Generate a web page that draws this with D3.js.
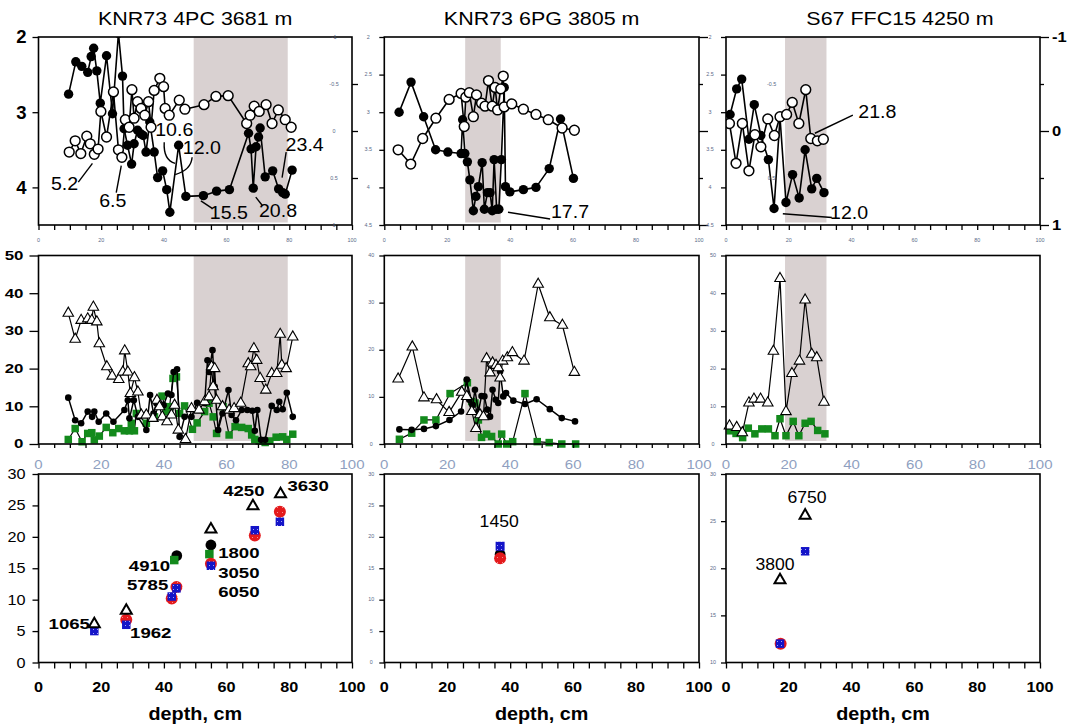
<!DOCTYPE html>
<html>
<head>
<meta charset="utf-8">
<script src="https://cdn.jsdelivr.net/npm/d3@7/dist/d3.min.js"></script>
<style>
  body { margin: 0; background: #fff; }
  svg { display: block; font-family: "Liberation Sans", Arial, Helvetica, sans-serif; }
</style>
</head>
<body>
<svg id="fig" width="1069" height="728"></svg>
<script>
// ---------------------------------------------------------------
// Cores, shaded intervals and axis ticks
// ---------------------------------------------------------------
const coreTitles = ["KNR73 4PC 3681 m", "KNR73 6PG 3805 m", "S67 FFC15 4250 m"];
const shadedIntervals = [[49.5, 79.5], [25.7, 37.0], [18.8, 32.0]];
const depthLabels = [0, 20, 40, 60, 80, 100];
const isoLeftLabels = [2, 3, 4];
const isoRightLabels = [-1, 0, 1];
const faunaDomains = [[0, 50], [0, 40], [0, 50]];
const ageDomains = [[0, 30], [0, 30], [10, 30]];

// ---------------------------------------------------------------
// Stable isotope records, [depth cm, value]
// ---------------------------------------------------------------
const pc4Filled = [[9.6,2.76],[11.9,2.33],[13.8,2.39],[15.7,2.47],[16.8,2.26],[17.6,2.15],[18.6,2.45],[19.7,2.88],[21.7,2.25],[23.6,3.02],[25.5,1.95],[26.8,2.52],[27.3,3.22],[28.4,3.44],[29.7,3.69],[30.5,3.42],[31.6,3.24],[32.7,3.29],[33.4,3.31],[34.3,3.53],[35.5,3.13],[36.9,3.53],[38.0,3.87],[39.6,3.78],[40.9,4.03],[41.9,4.33],[44.7,3.44],[47.0,4.12],[52.6,4.11],[56.8,4.05],[60.9,4.03],[67.0,3.28],[67.8,3.49],[68.5,4.01],[69.4,3.46],[70.2,3.33],[70.7,3.21],[72.3,3.86],[74.7,3.78],[76.6,4.02],[77.9,4.07],[78.7,4.09],[80.9,3.77]];
const pc4Open = [[9.8,3.53],[11.7,3.38],[13.5,3.55],[15.4,3.32],[16.5,3.42],[17.8,3.56],[19.0,3.49],[19.9,2.99],[21.7,3.33],[23.9,2.73],[25.5,3.50],[26.6,3.60],[27.7,3.10],[28.9,3.20],[29.8,2.70],[30.5,3.08],[31.6,2.86],[32.7,2.95],[33.9,3.04],[35.1,2.86],[35.9,3.20],[36.9,2.71],[38.7,2.55],[39.9,2.66],[40.4,2.95],[41.7,3.04],[44.9,2.84],[46.7,2.96],[52.8,2.90],[56.6,2.79],[60.5,2.78],[66.4,3.15],[67.5,3.04],[68.8,2.92],[70.4,2.99],[72.6,2.90],[74.5,3.15],[76.5,2.97],[78.7,3.10],[80.6,3.20]];
const pg6Filled = [[4.7,3.00],[8.5,2.60],[12.5,3.06],[16.3,3.50],[20.2,3.53],[24.4,3.55],[24.9,3.10],[25.6,3.55],[26.4,3.66],[27.2,3.90],[28.3,4.31],[29.1,4.12],[29.9,3.99],[31.1,3.67],[31.8,4.29],[32.8,4.07],[33.6,4.07],[34.3,4.31],[34.9,3.63],[35.7,4.29],[36.4,4.29],[37.2,3.63],[38.1,2.67],[38.5,3.99],[39.9,4.06],[44.2,4.03],[48.2,4.00],[52.4,3.75],[56.0,3.09],[60.1,3.88]];
const pg6Open = [[4.4,3.50],[8.4,3.69],[12.2,3.35],[16.4,3.08],[20.6,2.83],[24.4,2.75],[25.4,3.19],[25.9,2.80],[27.0,2.74],[28.3,3.06],[29.3,2.77],[30.9,2.88],[32.0,2.92],[33.1,2.58],[34.3,2.92],[35.2,2.67],[36.0,2.97],[37.0,2.69],[37.8,2.52],[38.1,2.93],[40.5,2.89],[44.2,2.96],[48.2,3.03],[52.1,3.10],[56.5,3.21],[60.4,3.24]];
const ffcFilled = [[1.3,3.03],[3.4,2.69],[5.0,2.56],[7.3,3.36],[9.0,2.90],[11.1,3.31],[13.5,3.63],[15.3,4.28],[17.2,3.07],[19.1,4.20],[21.2,3.83],[23.3,4.14],[25.2,3.50],[27.3,4.02],[28.9,3.88],[31.2,4.07]];
const ffcOpen = [[1.1,3.15],[3.2,3.68],[5.2,3.15],[7.3,3.78],[9.2,3.30],[11.1,3.46],[13.3,3.09],[15.4,3.31],[17.2,3.06],[19.3,3.03],[21.1,2.87],[23.2,3.15],[25.4,2.70],[27.0,3.35],[29.1,3.38],[31.0,3.36]];

// Age notes (kyr) on the isotope panels: text, text point, leader line
const pc4Notes = [
  {text: "5.2",  at: [8.3, 3.95],  line: [[12.7, 3.93], [17.2, 3.68]]},
  {text: "6.5",  at: [23.7, 4.18], line: [[24.8, 4.07], [26.4, 3.71]]},
  {text: "10.6", at: [43.3, 3.24], line: [[40.1, 3.40], [39.8, 3.64], [43.6, 3.68]]},
  {text: "12.0", at: [52.1, 3.48], line: [[49.0, 3.60], [48.7, 3.77], [43.6, 3.83]]},
  {text: "15.5", at: [60.7, 4.34], line: [[51.8, 4.18], [55.4, 4.28]]},
  {text: "20.8", at: [76.4, 4.31], line: [[69.3, 4.13], [71.4, 4.24]]},
  {text: "23.4", at: [84.9, 3.43], line: [[79.0, 3.53], [77.7, 3.87]]}
];
const pg6Notes = [
  {text: "17.7", at: [59.0, 4.33], line: [[39.3, 4.33], [52.7, 4.42]]}
];
const ffcNotes = [
  {text: "21.8", at: [48.2, 2.99], line: [[28.3, 3.28], [40.4, 3.04]]},
  {text: "12.0", at: [39.2, 4.34], line: [[18.1, 4.35], [33.7, 4.40]]}
];

// ---------------------------------------------------------------
// Faunal records (%), [depth cm, value]
// ---------------------------------------------------------------
const pc4Tri = [[9.5,34.7],[11.7,27.8],[13.6,32.8],[15.7,33.2],[17.0,32.8],[17.5,36.3],[18.6,32.4],[19.4,26.6],[21.8,20.5],[23.5,18.0],[25.6,17.1],[26.9,19.1],[27.5,24.7],[28.5,19.1],[29.3,13.4],[30.6,17.6],[31.7,13.8],[32.8,7.7],[34.4,7.7],[36.5,6.8],[37.8,11.6],[38.6,9.9],[39.5,7.2],[41.0,5.9],[42.4,7.7],[43.4,10.3],[44.6,3.7],[46.9,1.2],[48.8,9.4],[51.2,9.0],[53.0,11.2],[54.4,12.5],[55.2,20.5],[55.7,15.2],[56.2,20.0],[56.8,11.6],[58.7,9.9],[60.8,9.0],[62.4,9.4],[64.5,10.8],[66.9,21.3],[67.7,20.5],[68.7,25.3],[69.6,22.2],[70.7,17.4],[72.5,14.3],[74.4,18.7],[76.0,18.7],[77.1,29.1],[77.6,20.9],[79.0,20.0],[81.1,28.4]];
const pc4Dot = [[9.5,12.3],[11.7,6.3],[13.6,5.5],[15.7,8.6],[17.1,7.2],[17.8,8.6],[19.2,5.9],[21.6,8.1],[23.9,5.9],[27.4,9.0],[28.5,11.6],[29.0,6.8],[30.4,11.6],[31.7,7.2],[34.4,3.7],[35.6,13.0],[36.7,8.1],[37.6,10.8],[38.6,10.8],[39.9,10.3],[41.3,13.4],[42.4,13.0],[43.1,19.1],[44.2,19.8],[45.0,1.9],[46.6,7.2],[48.8,7.2],[50.6,10.9],[53.0,10.8],[53.9,22.2],[54.4,19.1],[55.5,24.9],[56.2,15.2],[57.3,3.7],[58.7,8.1],[60.6,14.3],[61.6,7.7],[63.0,6.3],[64.8,9.0],[66.6,9.0],[68.2,8.8],[69.0,3.5],[69.8,9.0],[71.0,1.1],[72.3,1.1],[74.4,10.1],[76.0,9.0],[76.8,11.2],[77.9,9.2],[79.2,13.6],[81.1,7.2]];
const pc4Sq = [[9.5,1.2],[11.7,4.1],[13.9,0.6],[15.7,2.8],[17.0,3.0],[17.8,1.1],[19.4,2.1],[21.6,4.4],[23.7,3.0],[25.6,4.1],[27.4,3.5],[29.0,3.5],[29.6,5.5],[30.6,3.5],[31.2,8.1],[34.4,5.5],[37.0,7.2],[39.4,12.7],[40.8,8.6],[41.8,9.9],[42.9,17.4],[44.0,17.8],[45.0,8.1],[46.6,10.1],[49.1,3.9],[50.6,5.6],[53.0,8.6],[54.4,10.8],[55.7,7.2],[56.8,2.8],[58.9,9.9],[60.8,2.4],[62.7,4.6],[64.8,4.4],[66.9,4.1],[68.0,2.4],[69.0,1.2],[70.4,0.8],[72.3,0.4],[73.8,0.8],[75.8,1.8],[77.9,1.9],[79.2,1.2],[81.1,2.6]];
const pg6Tri = [[4.4,13.8],[8.9,20.6],[12.6,9.8],[16.6,9.4],[20.6,6.7],[24.6,11.0],[26.2,10.1],[27.8,6.9],[29.1,3.3],[30.4,6.2],[31.5,5.8],[32.5,18.1],[33.6,15.1],[34.4,17.2],[35.5,16.7],[36.2,16.2],[36.8,14.0],[37.6,17.6],[39.1,18.3],[40.7,19.4],[44.4,17.6],[48.9,33.9],[52.6,26.8],[56.6,25.2],[60.4,15.2]];
const pg6Dot = [[4.8,3.1],[8.7,3.0],[12.6,3.2],[16.4,3.8],[20.7,5.1],[24.4,6.9],[26.2,13.7],[27.0,9.4],[28.1,8.3],[28.8,11.5],[29.9,6.9],[30.9,10.2],[31.8,10.1],[32.7,7.3],[33.6,5.8],[34.4,11.5],[35.4,9.4],[36.2,8.7],[36.8,15.4],[37.8,10.1],[38.7,10.8],[41.0,9.2],[44.7,8.5],[48.4,9.5],[52.6,7.4],[56.4,5.5],[60.6,4.8]];
const pg6Sq = [[4.8,1.0],[8.7,2.3],[12.6,5.1],[16.4,5.1],[20.9,10.7],[26.4,13.0],[27.8,9.0],[28.8,8.7],[29.9,5.1],[30.9,1.4],[32.5,2.1],[34.1,1.6],[36.2,0.0],[37.3,2.1],[38.9,0.0],[40.8,0.5],[44.7,10.7],[48.6,0.5],[52.4,0.3],[56.4,0.0],[60.8,0.0]];
const ffcTri = [[1.1,4.8],[3.4,4.4],[5.2,3.0],[7.3,10.9],[8.9,11.9],[11.0,11.9],[13.3,10.9],[15.1,24.6],[17.2,43.9],[19.1,8.6],[21.0,18.7],[23.4,22.0],[25.2,38.2],[27.3,23.8],[28.9,22.9],[31.2,11.1]];
const ffcSq = [[1.3,3.5],[3.2,2.8],[5.3,1.7],[7.1,4.2],[9.2,2.7],[11.4,4.0],[13.5,4.0],[15.6,2.2],[17.2,6.7],[19.1,2.2],[21.4,6.0],[23.2,2.2],[25.2,5.5],[27.1,6.0],[29.2,3.6],[31.5,2.7]];

// ---------------------------------------------------------------
// Radiocarbon ages (kyr) vs depth, [depth cm, age]
// ---------------------------------------------------------------
const pc4AgeTri   = [[17.8,6.1],[28.0,8.25],[55.0,21.2],[68.4,24.9],[77.2,26.8]];
const pc4AgeRed   = [[28.0,6.8],[42.5,10.2],[44.0,12.0],[55.0,15.7],[69.0,20.2],[77.0,24.0]];
const pc4AgeBlue  = [[17.8,5.0],[28.0,6.0],[42.5,10.5],[44.0,11.8],[55.0,15.4],[69.0,21.05],[77.0,22.4]];
const pc4AgeBlack = [[44.1,17.0],[55.0,18.7]];
const pc4AgeGreen = [[43.3,16.3],[54.5,17.25]];
const pg6AgeBlack = [[36.8,17.2]];
const pg6AgeRed   = [[36.8,16.6]];
const pg6AgeBlue  = [[36.8,18.5]];
const ffcAgeTri   = [[17.2,18.75],[25.2,25.6]];
const ffcAgeRed   = [[17.4,12.0]];
const ffcAgeBlue  = [[17.2,12.0],[25.2,21.8]];

// Reservoir-age notes (yr)
const pc4AgeNotes = [
  {text: "1065", at: [16.4, 6.2],  anchor: "end"},
  {text: "1962", at: [29.2, 4.8],  anchor: "start"},
  {text: "4910", at: [42.0, 15.4], anchor: "end"},
  {text: "5785", at: [41.4, 12.4], anchor: "end"},
  {text: "1800", at: [57.3, 17.5], anchor: "start"},
  {text: "3050", at: [57.3, 14.3], anchor: "start"},
  {text: "6050", at: [57.3, 11.3], anchor: "start"},
  {text: "4250", at: [65.5, 27.3], anchor: "middle"},
  {text: "3630", at: [79.4, 28.1], anchor: "start"}
];
const pg6AgeNotes = [{text: "1450", at: [36.5, 22.5], anchor: "middle"}];
const ffcAgeNotes = [
  {text: "6750", at: [25.8, 27.55], anchor: "middle"},
  {text: "3800", at: [15.6, 20.4],  anchor: "middle"}
];

// ---------------------------------------------------------------
// Layout
// ---------------------------------------------------------------
const colRange = [[38.5, 352], [384.3, 699], [726, 1040]];
const rowRange = {iso: [225, 37], fauna: [444, 255.5], age: [662.5, 474]};
const SHADE = "#d9d1d1";
const GREEN = "#138a1c";
const RED = "#e41a1c";
const BLUE = "#1414c8";
const GHOST = "#8f9fbf";

const svg = d3.select("#fig");

const defs = svg.append("defs");
const bluePat = defs.append("pattern").attr("id", "blueDots")
  .attr("patternUnits", "userSpaceOnUse").attr("width", 4).attr("height", 4);
bluePat.append("rect").attr("width", 4).attr("height", 4).attr("fill", BLUE);
bluePat.append("rect").attr("x", 1).attr("y", 1).attr("width", 0.9).attr("height", 0.9).attr("fill", "#c8c8ff");
const redPat = defs.append("pattern").attr("id", "redDots")
  .attr("patternUnits", "userSpaceOnUse").attr("width", 5).attr("height", 5);
redPat.append("rect").attr("width", 5).attr("height", 5).attr("fill", RED);
redPat.append("rect").attr("x", 2).attr("y", 2).attr("width", 0.8).attr("height", 0.8).attr("fill", "#ffd0d0");

function label(g, x, y, str, o = {}) {
  return g.append("text")
    .attr("transform", `translate(${x},${y}) scale(${o.sx || 1},1)`)
    .attr("text-anchor", o.anchor || "middle")
    .attr("dy", o.dy == null ? "0.35em" : o.dy)
    .attr("font-size", o.size || 16)
    .attr("font-weight", o.weight || "normal")
    .attr("fill", o.fill || "#000")
    .text(str);
}
function tiny(g, x, y, str) {
  label(g, x, y, str, {size: 4.5, fill: "#5a6a88", sx: 1.2});
}
function styleAxis(sel, w) {
  sel.select(".domain").remove();
  sel.selectAll("line").attr("stroke", "#000").attr("stroke-width", w || 1.3);
}
function ticksBottom(g, x, yPos, size) {
  const a = g.append("g").attr("transform", `translate(0,${yPos})`)
    .call(d3.axisBottom(x).tickValues(d3.range(0, 101, 5)).tickSize(size).tickFormat(""));
  styleAxis(a);
}
function ticksLeft(g, y, xPos, values, size) {
  const a = g.append("g").attr("transform", `translate(${xPos},0)`)
    .call(d3.axisLeft(y).tickValues(values).tickSize(size).tickFormat(""));
  styleAxis(a);
}
function ticksRight(g, y, xPos, values, size) {
  const a = g.append("g").attr("transform", `translate(${xPos},0)`)
    .call(d3.axisRight(y).tickValues(values).tickSize(size).tickFormat(""));
  styleAxis(a);
}
function frame(g, x, y) {
  const [x0, x1] = x.range(), [y0, y1] = y.range();
  g.append("rect").attr("x", x0).attr("y", y1).attr("width", x1 - x0).attr("height", y0 - y1)
    .attr("fill", "none").attr("stroke", "#000").attr("stroke-width", 1.6);
}
function shade(g, x, y, band, inset) {
  const [y0, y1] = y.range();
  g.append("rect").attr("x", x(band[0])).attr("y", y1)
    .attr("width", x(band[1]) - x(band[0])).attr("height", y0 - y1 - (inset || 0))
    .attr("fill", SHADE);
}
function line(g, x, y, data, w) {
  g.append("path").datum(data)
    .attr("d", d3.line().x(d => x(d[0])).y(d => y(d[1])))
    .attr("fill", "none").attr("stroke", "#000").attr("stroke-width", w || 1.5)
    .attr("stroke-linejoin", "round");
}
function circles(g, x, y, data, r, fill, stroke, sw) {
  g.append("g").selectAll("circle").data(data).join("circle")
    .attr("cx", d => x(d[0])).attr("cy", d => y(d[1])).attr("r", r)
    .attr("fill", fill).attr("stroke", stroke || "none").attr("stroke-width", sw || 0);
}
function squares(g, x, y, data, s, fill) {
  g.append("g").selectAll("rect").data(data).join("rect")
    .attr("x", d => x(d[0]) - s / 2).attr("y", d => y(d[1]) - s / 2)
    .attr("width", s).attr("height", s).attr("fill", fill);
}
function triangles(g, x, y, data, side, sw) {
  const sym = d3.symbol(d3.symbolTriangle, Math.sqrt(3) / 4 * side * side);
  g.append("g").selectAll("path").data(data).join("path")
    .attr("transform", d => `translate(${x(d[0])},${y(d[1])})`)
    .attr("d", sym).attr("fill", "#fff").attr("stroke", "#000").attr("stroke-width", sw || 1.2);
}
function notes(g, x, y, list, size, sx) {
  list.forEach(n => {
    if (n.line) {
      const pts = n.line.map(p => [x(p[0]), y(p[1])]);
      const path = pts.length === 3
        ? `M${pts[0]}Q${pts[1]} ${pts[2]}`
        : `M${pts[0]}L${pts[1]}`;
      g.append("path").attr("d", path).attr("fill", "none")
        .attr("stroke", "#000").attr("stroke-width", 1.4);
    }
    label(g, x(n.at[0]), y(n.at[1]), n.text, {size: size, sx: sx, anchor: n.anchor || "middle"});
  });
}

// ---------------------------------------------------------------
// Titles
// ---------------------------------------------------------------
coreTitles.forEach((t, i) => {
  const cx = (colRange[i][0] + colRange[i][1]) / 2 + (i === 2 ? 17 : 0);
  label(svg, cx, 25, t, {size: 19, sx: 1.13, dy: 0});
});

const isoSeries = [[pc4Filled, pc4Open, pc4Notes], [pg6Filled, pg6Open, pg6Notes], [ffcFilled, ffcOpen, ffcNotes]];
const faunaSeries = [[pc4Tri, pc4Dot, pc4Sq], [pg6Tri, pg6Dot, pg6Sq], [ffcTri, null, ffcSq]];

for (let c = 0; c < 3; c++) {
  const x = d3.scaleLinear().domain([0, 100]).range(colRange[c]);

  // ---------------- isotope row ----------------
  {
    const g = svg.append("g");
    const y = d3.scaleLinear().domain([4.5, 2]).range(rowRange.iso);
    const yR = d3.scaleLinear().domain([1, -1]).range(rowRange.iso);
    shade(g, x, y, shadedIntervals[c], 2.5);

    const clipId = "isoClip" + c;
    defs.append("clipPath").attr("id", clipId).append("rect")
      .attr("x", colRange[c][0]).attr("y", rowRange.iso[1])
      .attr("width", colRange[c][1] - colRange[c][0]).attr("height", rowRange.iso[0] - rowRange.iso[1]);
    const d = g.append("g").attr("clip-path", `url(#${clipId})`);
    const [filled, open, nts] = isoSeries[c];
    line(d, x, y, filled, 1.6);
    line(d, x, y, open, 1.6);
    circles(d, x, y, filled, 4.7, "#000");
    circles(d, x, y, open, 4.9, "#fff", "#000", 1.5);

    frame(g, x, y);
    ticksBottom(g, x, rowRange.iso[0], 5);
    if (c === 0) {
      ticksLeft(g, y, colRange[c][0], isoLeftLabels, 6);
      isoLeftLabels.forEach(v => label(g, colRange[c][0] - 12, y(v), v, {size: 18.5, weight: "bold", anchor: "end"}));
      ticksRight(g, yR, colRange[c][1], [-0.5, 0, 0.5], 6);
      [-1, -0.5, 0, 0.5, 1].forEach(v => tiny(g, colRange[c][1] - 18, yR(v), v));
    } else {
      ticksLeft(g, y, colRange[c][0], d3.range(2, 4.51, 0.5), 5);
      d3.range(2, 4.51, 0.5).forEach(v => tiny(g, colRange[c][0] - 16, y(v), v));
      ticksRight(g, yR, colRange[c][1], [-1, 0, 1], 9);
      ticksRight(g, yR, colRange[c][1], [-0.5, 0.5], 4);
    }
    if (c === 2) {
      isoRightLabels.forEach(v => label(g, colRange[c][1] + 12, yR(v), v, {size: 15, weight: "bold", anchor: "start", sx: 1.1}));
      [-0.5, 0.5].forEach(v => tiny(g, x(14.5), yR(v), v));
    }
    depthLabels.forEach(v => tiny(g, x(v), rowRange.iso[0] + 15, v));
    notes(g, x, y, nts, 17.5, 1.12);
  }

  // ---------------- fauna row ----------------
  {
    const g = svg.append("g");
    const y = d3.scaleLinear().domain(faunaDomains[c]).range(rowRange.fauna);
    shade(g, x, y, shadedIntervals[c], 3);
    const [tri, dot, sq] = faunaSeries[c];
    line(g, x, y, sq, 1.2);
    squares(g, x, y, sq, 7.5, GREEN);
    if (dot) {
      line(g, x, y, dot, 1.5);
      circles(g, x, y, dot, 3.3, "#000");
    }
    line(g, x, y, tri, 1.2);
    triangles(g, x, y, tri, 10.5, 1.1);

    frame(g, x, y);
    ticksBottom(g, x, rowRange.fauna[0], 4);
    const tv = d3.range(faunaDomains[c][0], faunaDomains[c][1] + 0.1, 10);
    if (c === 0) {
      ticksLeft(g, y, colRange[c][0], tv, 9);
      tv.forEach(v => label(g, colRange[c][0] - 15, y(v), v, {size: 12.5, weight: "bold", anchor: "end", sx: 1.35}));
    } else {
      ticksLeft(g, y, colRange[c][0], tv, 5);
      tv.forEach(v => tiny(g, colRange[c][0] - 13, y(v), v));
    }
    depthLabels.forEach(v => label(g, x(v), 465, v, {size: 12, sx: 1.25, fill: GHOST}));
  }

  // ---------------- age row ----------------
  {
    const g = svg.append("g");
    const y = d3.scaleLinear().domain(ageDomains[c]).range(rowRange.age);
    frame(g, x, y);
    ticksBottom(g, x, rowRange.age[0], 6);
    const tv = d3.range(ageDomains[c][0], ageDomains[c][1] + 0.1, 5);
    if (c === 0) {
      ticksLeft(g, y, colRange[c][0], tv, 6);
      tv.forEach(v => label(g, colRange[c][0] - 13, y(v), v, {size: 14.5, anchor: "end", sx: 1.12}));
    } else {
      ticksLeft(g, y, colRange[c][0], tv, 5);
      tv.forEach(v => tiny(g, colRange[c][0] - 13, y(v), v));
    }
    depthLabels.forEach(v => label(g, x(v), 687, v, {size: 15, weight: "bold", sx: 1.08}));
    label(g, (colRange[c][0] + colRange[c][1]) / 2, 714, "depth, cm", {size: 18, weight: "bold", sx: 1.1});

    if (c === 0) {
      circles(g, x, y, pc4AgeBlack, 5.4, "#000");
      squares(g, x, y, pc4AgeGreen, 8.5, GREEN);
      circles(g, x, y, pc4AgeRed, 6, "url(#redDots)");
      squares(g, x, y, pc4AgeBlue, 8.5, "url(#blueDots)");
      triangles(g, x, y, pc4AgeTri, 11, 2);
      pc4AgeNotes.forEach(n => label(g, x(n.at[0]), y(n.at[1]), n.text, {size: 15.5, weight: "bold", anchor: n.anchor, sx: 1.2}));
    } else if (c === 1) {
      circles(g, x, y, pg6AgeBlack, 5.4, "#000");
      squares(g, x, y, pg6AgeBlue, 9, "url(#blueDots)");
      circles(g, x, y, pg6AgeRed, 6, "url(#redDots)");
      pg6AgeNotes.forEach(n => label(g, x(n.at[0]), y(n.at[1]), n.text, {size: 16, anchor: n.anchor, sx: 1.1}));
    } else {
      circles(g, x, y, ffcAgeRed, 6, "url(#redDots)");
      squares(g, x, y, ffcAgeBlue, 8.5, "url(#blueDots)");
      triangles(g, x, y, ffcAgeTri, 11, 2);
      ffcAgeNotes.forEach(n => label(g, x(n.at[0]), y(n.at[1]), n.text, {size: 16, anchor: n.anchor, sx: 1.1}));
    }
  }
}
</script>
</body>
</html>
